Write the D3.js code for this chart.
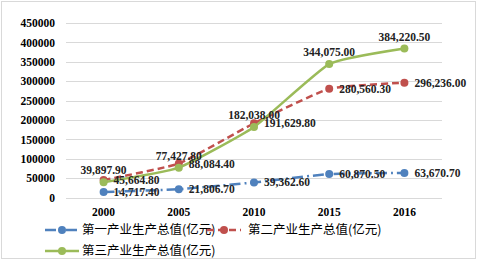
<!DOCTYPE html>
<html>
<head>
<meta charset="utf-8">
<script src="https://cdn.jsdelivr.net/npm/d3@7"></script>
<style>
  body { margin: 0; background: #fff; }
  svg text { font-family: "Liberation Serif", "Times New Roman", serif; }
</style>
</head>
<body>
<div id="chart"></div>
<script>
// data
var years = ["2000", "2005", "2010", "2015", "2016"];
var primary = [14717.40, 21806.70, 39362.60, 60870.50, 63670.70];
var secondary = [45664.80, 88084.40, 191629.80, 280560.30, 296236.00];
var tertiary = [39897.90, 77427.80, 182038.00, 344075.00, 384220.50];
var yTicks = [0, 50000, 100000, 150000, 200000, 250000, 300000, 350000, 400000, 450000];
var seriesNames = ["第一产业生产总值(亿元)", "第二产业生产总值(亿元)", "第三产业生产总值(亿元)"];

var width = 480, height = 262;
var margin = {top: 23, right: 38, bottom: 65, left: 66};

var svg = d3.select("#chart").append("svg")
    .attr("width", width)
    .attr("height", height);

// outer frame
svg.append("rect")
    .attr("x", 1.5).attr("y", 1.5)
    .attr("width", 474).attr("height", 257)
    .attr("fill", "#fff")
    .attr("stroke", "#d9d9d9");

var x = d3.scaleBand()
    .domain(years)
    .range([margin.left, width - margin.right]);

var y = d3.scaleLinear()
    .domain([0, 450000])
    .range([height - margin.bottom + 0.7, margin.top]);

// gridlines
svg.append("g")
  .selectAll("line")
  .data(yTicks)
  .enter()
  .append("line")
    .attr("x1", margin.left)
    .attr("x2", width - margin.right)
    .attr("y1", function(d) { return Math.round(y(d)) + 0.5; })
    .attr("y2", function(d) { return Math.round(y(d)) + 0.5; })
    .attr("stroke", "#d9d9d9")
    .attr("stroke-width", 1);

// y axis labels
var yAxis = d3.axisLeft(y).tickValues(yTicks).tickSize(0).tickPadding(11)
    .tickFormat(d3.format("d"));
svg.append("g")
    .attr("transform", "translate(" + margin.left + ",0)")
    .call(yAxis)
    .call(function(g) { g.select(".domain").remove(); })
    .selectAll("text")
      .style("font-family", "Liberation Serif")
      .style("font-size", "11.5px")
      .style("font-weight", "bold")
      .attr("fill", "#000");

// x axis labels
var xAxis = d3.axisBottom(x).tickSize(0).tickPadding(10);
svg.append("g")
    .attr("transform", "translate(0," + y(0) + ")")
    .call(xAxis)
    .call(function(g) { g.select(".domain").remove(); })
    .selectAll("text")
      .style("font-family", "Liberation Serif")
      .style("font-size", "11.5px")
      .style("font-weight", "bold")
      .attr("fill", "#000");

var series = [
  {name: seriesNames[0], values: primary, color: "#4f81bd", dash: "11,4,2,4", label: "right"},
  {name: seriesNames[1], values: secondary, color: "#c0504d", dash: "7,4", label: "right"},
  {name: seriesNames[2], values: tertiary, color: "#9bbb59", dash: null, label: "above"}
];

var line = d3.line()
    .x(function(d, i) { return x(years[i]) + x.bandwidth() / 2; })
    .y(function(d) { return y(d); })
    .curve(d3.curveCardinal.tension(0.55));

var fmt = d3.format(",.2f");

series.forEach(function(s) {
  var g = svg.append("g");
  g.append("path")
      .datum(s.values)
      .attr("fill", "none")
      .attr("stroke", s.color)
      .attr("stroke-width", 2.5)
      .attr("stroke-dasharray", s.dash)
      .attr("d", line);
  g.selectAll("circle")
    .data(s.values)
    .enter()
    .append("circle")
      .attr("cx", function(d, i) { return x(years[i]) + x.bandwidth() / 2; })
      .attr("cy", function(d) { return y(d); })
      .attr("r", 4)
      .attr("fill", s.color);
});

// data labels
series.forEach(function(s) {
  svg.append("g")
    .selectAll("text")
    .data(s.values)
    .enter()
    .append("text")
      .attr("x", function(d, i) {
        var cx = x(years[i]) + x.bandwidth() / 2;
        return s.label == "above" ? cx : cx + 10;
      })
      .attr("y", function(d) { return s.label == "above" ? y(d) - 12 : y(d); })
      .attr("dy", "0.35em")
      .attr("text-anchor", s.label == "above" ? "middle" : "start")
      .style("font-size", "11.5px")
      .style("font-weight", "bold")
      .attr("fill", "#222")
      .text(function(d) { return fmt(d); });
});

// legend
var legendPos = [
  {x: 45, y: 230, tx: 82},
  {x: 207, y: 230, tx: 248},
  {x: 45, y: 251, tx: 82}
];
series.forEach(function(s, i) {
  var p = legendPos[i];
  var lg = svg.append("g");
  lg.append("line")
      .attr("x1", p.x).attr("x2", p.x + 34)
      .attr("y1", p.y).attr("y2", p.y)
      .attr("stroke", s.color)
      .attr("stroke-width", 2.5)
      .attr("stroke-dasharray", s.dash);
  lg.append("circle")
      .attr("cx", p.x + 17).attr("cy", p.y)
      .attr("r", 4)
      .attr("fill", s.color);
  lg.append("text")
      .attr("x", p.tx).attr("y", p.y)
      .attr("dy", "0.35em")
      .style("font-family", "'Noto Sans CJK SC', sans-serif")
      .style("font-size", "12.5px")
      .attr("fill", "#000")
      .text(s.name);
});
</script>
</body>
</html>
